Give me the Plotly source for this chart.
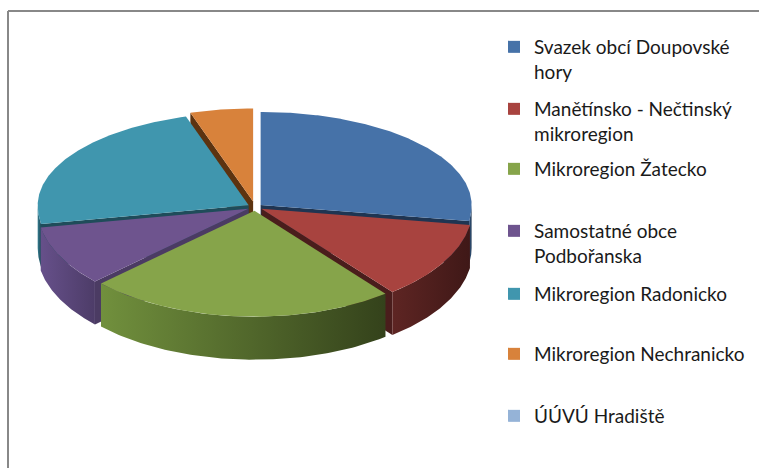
import numpy as np
import plotly.graph_objects as go

# ---- data ----
categories = [
    "Svazek obcí Doupovské<br>hory",
    "Manětínsko - Nečtinský<br>mikroregion",
    "Mikroregion Žatecko",
    "Samostatné obce<br>Podbořanska",
    "Mikroregion Radonicko",
    "Mikroregion Nechranicko",
    "ÚÚVÚ Hradiště",
]
values = [27.4, 11.9, 23.6, 9.2, 23.0, 4.8, 0.0]

# ---- styles ----
top_colors = ["#4672A8", "#A8433F", "#86A44A", "#6E548E", "#4096AE", "#D8823B", "#95B3D7"]
wall_light = ["#34577f", "#5e2523", "#71903d", "#66508a", "#347c90", "#a05a20", "#7f9cc0"]
wall_dark = ["#223a57", "#3f1817", "#34421b", "#4d3c68", "#1f4a57", "#6a3a12", "#5f7aa0"]
radial_colors = ["#1f3552", "#4a1d1c", "#3c4d20", "#4b3b63", "#1f4c5a", "#5c3310", "#5f7aa0"]
explode = [0.035, 0.035, 0.035, 0.035, 0.035, 0.06, 0.035]
legend_tops = [28, 90, 150, 212, 275, 335, 397]  # pixel top of each legend entry

CX, CY = 255, 207
RX, RY_BACK, RY_FRONT = 211, 93, 106
DEPTH = 43

total = sum(values)
cum = np.cumsum([0] + values)
start = 90 - 360 * cum[:-1] / total
end = 90 - 360 * cum[1:] / total
mid = (start + end) / 2


def ellipse(theta_deg, ox, oy, dz=0.0):
    th = np.radians(np.atleast_1d(theta_deg).astype(float))
    s = np.sin(th)
    ry = np.where(s >= 0, RY_BACK, RY_FRONT)
    return CX + RX * np.cos(th) + ox, CY - ry * s + oy + dz


def offset(i):
    m = np.radians(mid[i])
    ry = RY_BACK if np.sin(m) >= 0 else RY_FRONT
    return explode[i] * RX * np.cos(m), -explode[i] * ry * np.sin(m)


fig = go.Figure()

order = sorted([i for i in range(len(values)) if values[i] > 0],
               key=lambda i: -np.sin(np.radians(mid[i])))

for i in order:
    a, b = start[i], end[i]
    ox, oy = offset(i)
    tx, ty = CX + ox, CY + oy
    # radial walls (only those facing the viewer)
    for ang, vis in ((a, np.cos(np.radians(a)) < -1e-9), (b, np.cos(np.radians(b)) > 1e-9)):
        if not vis:
            continue
        rx_, ry_ = ellipse(ang, ox, oy)
        xs = [tx, rx_[0], rx_[0], tx, tx]
        ys = [ty, ry_[0], ry_[0] + DEPTH, ty + DEPTH, ty]
        fig.add_trace(go.Scatter(x=xs, y=ys, mode="lines", fill="toself",
                                 fillcolor=radial_colors[i], line=dict(width=0),
                                 showlegend=False, hoverinfo="skip"))
    # outer wall (front part only)
    for k in range(-2, 2):
        lo, hi = -180 + 360 * k, 0 + 360 * k
        s0, s1 = min(a, hi), max(b, lo)
        if s0 - s1 <= 0.01:
            continue
        th = np.linspace(s0, s1, 80)
        x1, y1 = ellipse(th, ox, oy)
        x2, y2 = ellipse(th[::-1], ox, oy, DEPTH)
        xs = np.concatenate([x1, x2, x1[:1]])
        ys = np.concatenate([y1, y2, y1[:1]])
        fig.add_trace(go.Scatter(x=xs, y=ys, mode="lines", fill="toself",
                                 fillgradient=dict(type="horizontal",
                                                   colorscale=[[0, wall_light[i]], [1, wall_dark[i]]]),
                                 line=dict(width=0), showlegend=False, hoverinfo="skip"))
    # top face
    th = np.linspace(a, b, max(int(abs(a - b)), 4) * 2)
    xa, ya = ellipse(th, ox, oy)
    xs = np.concatenate([[tx], xa, [tx]])
    ys = np.concatenate([[ty], ya, [ty]])
    fig.add_trace(go.Scatter(x=xs, y=ys, mode="lines", fill="toself",
                             fillcolor=top_colors[i], line=dict(width=0),
                             showlegend=False, hoverinfo="skip"))

# legend entries, each in its own legend box (Excel-like spacing)
legend_layout = {}
for i, name in enumerate(categories):
    key = "legend" if i == 0 else "legend%d" % (i + 1)
    fig.add_trace(go.Scatter(x=[None], y=[None], mode="markers", name=name,
                             legend=key,
                             marker=dict(symbol="square", size=12, color=top_colors[i])))
    legend_layout[key] = dict(x=494 / 759, y=1 - legend_tops[i] / 468,
                              xanchor="left", yanchor="top",
                              font=dict(family="Lato", size=19, color="#1a1a1a"),
                              valign="top", bgcolor="rgba(0,0,0,0)")

fig.update_layout(
    width=759, height=468,
    margin=dict(l=0, r=0, t=0, b=0, pad=0),
    paper_bgcolor="white", plot_bgcolor="white",
    xaxis=dict(visible=False, range=[0, 759], fixedrange=True),
    yaxis=dict(visible=False, range=[468, 0], fixedrange=True),
    showlegend=True,
    shapes=[
        dict(type="line", xref="x", yref="y", x0=8, y0=11, x1=759, y1=11,
             line=dict(color="#888888", width=2)),
        dict(type="line", xref="x", yref="y", x0=8, y0=11, x1=8, y1=468,
             line=dict(color="#888888", width=2)),
    ],
    **legend_layout,
)

fig.write_html("out.html", config={"displayModeBar": False},
               post_script="document.body.style.margin='0px';document.body.style.overflow='hidden';")
